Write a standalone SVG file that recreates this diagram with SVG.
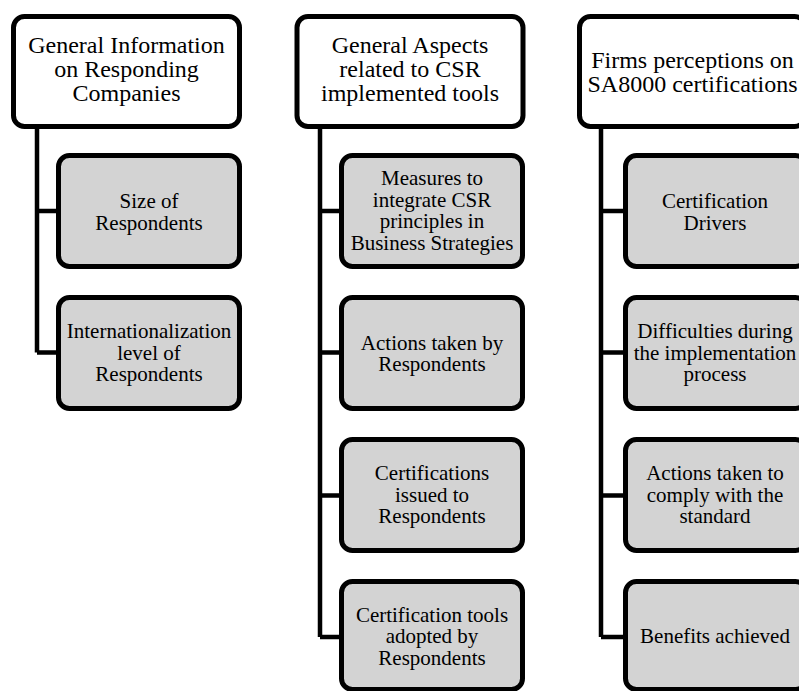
<svg xmlns="http://www.w3.org/2000/svg" width="799" height="691" viewBox="0 0 799 691">
<style>
.top{fill:#ffffff;stroke:#000;stroke-width:5}
.sub{fill:#d3d3d3;stroke:#000;stroke-width:5}
.conn{fill:none;stroke:#000;stroke-width:4.5}
text{font-family:"Liberation Serif","Times New Roman",serif;fill:#000;text-anchor:middle}
.tt{font-size:24px}
.st{font-size:21px}
</style>
<rect width="799" height="691" fill="#ffffff"/>
<g id="connectors">
<path class="conn" d="M37,129 V352.5 M37,211 H58 M37,352.5 H58"/>
<path class="conn" d="M320,129 V637 M320,211 H341 M320,352.5 H341 M320,495.5 H341 M320,637 H341"/>
<path class="conn" d="M601,129 V637 M601,211 H625 M601,352.5 H625 M601,495.5 H625 M601,637 H625"/>
</g>
<g id="c1-top">
<rect class="top" x="13.5" y="16.5" width="226" height="110" rx="11"/>
<text class="tt" x="126.5" y="53.3">General Information</text>
<text class="tt" x="126.5" y="77">on Responding</text>
<text class="tt" x="126.5" y="100.5">Companies</text>
</g>
<g id="c1-n1">
<rect class="sub" x="58.5" y="155.5" width="181" height="111" rx="11"/>
<text class="st" x="149" y="208">Size of</text>
<text class="st" x="149" y="229.7">Respondents</text>
</g>
<g id="c1-n2">
<rect class="sub" x="58.5" y="297.5" width="181" height="111" rx="11"/>
<text class="st" x="149" y="338">Internationalization</text>
<text class="st" x="149" y="359.7">level of</text>
<text class="st" x="149" y="381.4">Respondents</text>
</g>
<g id="c2-top">
<rect class="top" x="297" y="16.5" width="226" height="110" rx="11"/>
<text class="tt" x="410" y="53.3">General Aspects</text>
<text class="tt" x="410" y="77">related to CSR</text>
<text class="tt" x="410" y="100.5">implemented tools</text>
</g>
<g id="c2-n1">
<rect class="sub" x="341.5" y="155.5" width="181" height="111" rx="11"/>
<text class="st" x="432" y="185">Measures to</text>
<text class="st" x="432" y="206.7">integrate CSR</text>
<text class="st" x="432" y="228.4">principles in</text>
<text class="st" x="432" y="250.1">Business Strategies</text>
</g>
<g id="c2-n2">
<rect class="sub" x="341.5" y="297.5" width="181" height="111" rx="11"/>
<text class="st" x="432" y="349.5">Actions taken by</text>
<text class="st" x="432" y="371.2">Respondents</text>
</g>
<g id="c2-n3">
<rect class="sub" x="341.5" y="439.5" width="181" height="111" rx="11"/>
<text class="st" x="432" y="480">Certifications</text>
<text class="st" x="432" y="501.7">issued to</text>
<text class="st" x="432" y="523.4">Respondents</text>
</g>
<g id="c2-n4">
<rect class="sub" x="341.5" y="581.5" width="181" height="108" rx="11"/>
<text class="st" x="432" y="621.5">Certification tools</text>
<text class="st" x="432" y="643.2">adopted by</text>
<text class="st" x="432" y="664.9">Respondents</text>
</g>
<g id="c3-top">
<rect class="top" x="579.5" y="16.5" width="226" height="110" rx="11"/>
<text class="tt" x="692.5" y="68">Firms perceptions on</text>
<text class="tt" x="692.5" y="91.5">SA8000 certifications</text>
</g>
<g id="c3-n1">
<rect class="sub" x="625.5" y="155.5" width="181" height="111" rx="11"/>
<text class="st" x="715" y="208">Certification</text>
<text class="st" x="715" y="229.7">Drivers</text>
</g>
<g id="c3-n2">
<rect class="sub" x="625.5" y="297.5" width="181" height="111" rx="11"/>
<text class="st" x="715" y="338">Difficulties during</text>
<text class="st" x="715" y="359.7">the implementation</text>
<text class="st" x="715" y="381.4">process</text>
</g>
<g id="c3-n3">
<rect class="sub" x="625.5" y="439.5" width="181" height="111" rx="11"/>
<text class="st" x="715" y="480">Actions taken to</text>
<text class="st" x="715" y="501.7">comply with the</text>
<text class="st" x="715" y="523.4">standard</text>
</g>
<g id="c3-n4">
<rect class="sub" x="625.5" y="581.5" width="181" height="108" rx="11"/>
<text class="st" x="715" y="643">Benefits achieved</text>
</g>
</svg>
